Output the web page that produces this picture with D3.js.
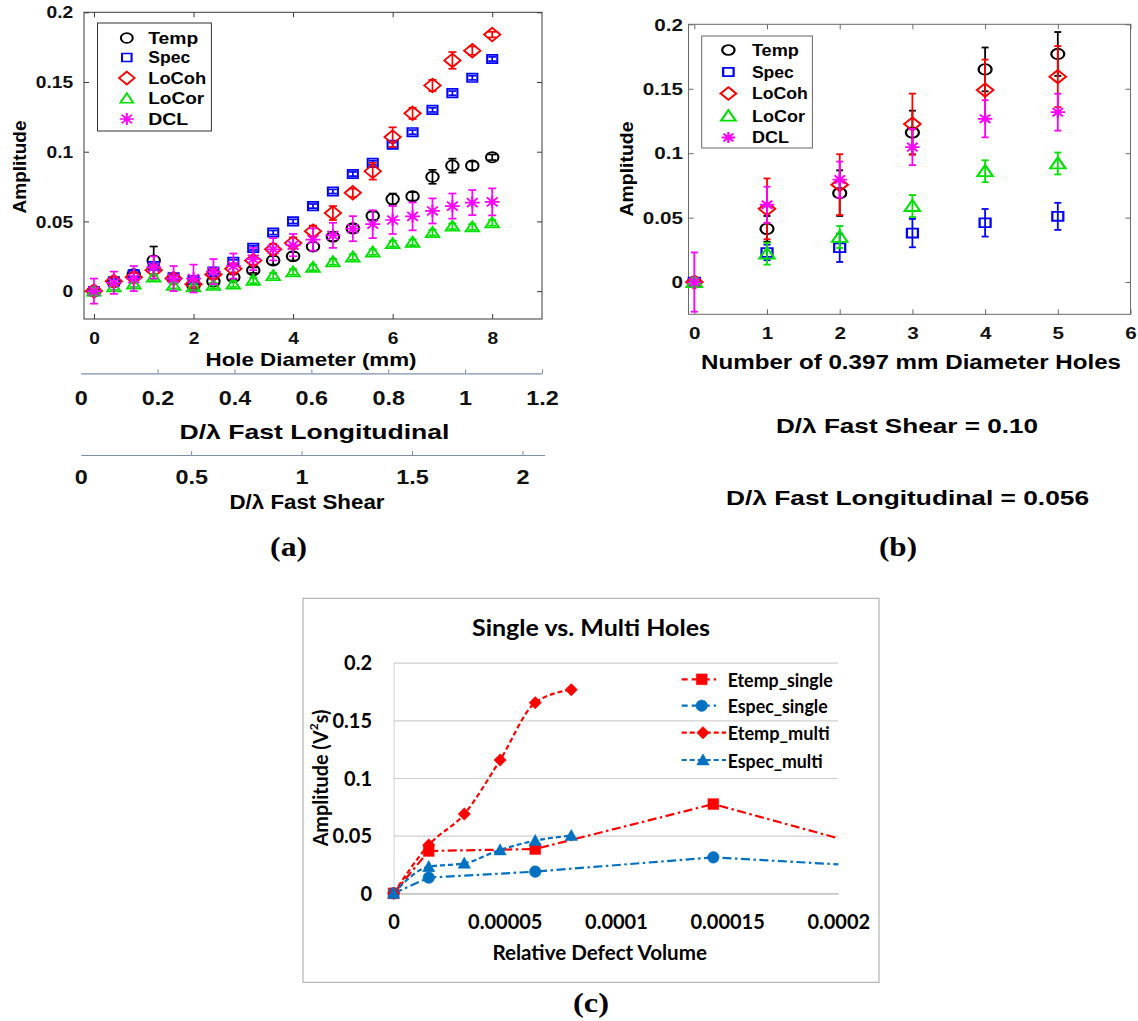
<!DOCTYPE html>
<html><head><meta charset="utf-8">
<script src="https://cdn.jsdelivr.net/npm/d3@7"></script>
<style>body{margin:0;background:#fff}svg{display:block}</style>
</head><body>
<svg id="fig" width="1138" height="1021"></svg>
<script>
// ---------------- DATA ----------------
const seriesNames = ["Temp", "Spec", "LoCoh", "LoCor", "DCL"];

// (a) single holes
const holeDiameter = [0, 0.4, 0.8, 1.2, 1.6, 2.0, 2.4, 2.8, 3.2, 3.6, 4.0, 4.4, 4.8, 5.2, 5.6, 6.0, 6.4, 6.8, 7.2, 7.6, 8.0];
const aTemp     = [0, 0.0065, 0.012, 0.022, 0.009, 0.004, 0.007, 0.010, 0.015, 0.022, 0.025, 0.032, 0.039, 0.045, 0.054, 0.066, 0.068, 0.082, 0.090, 0.090, 0.096];
const aTempErr  = [0.002, 0.003, 0.003, 0.010, 0.002, 0.002, 0.002, 0.002, 0.002, 0.003, 0.003, 0.003, 0.003, 0.003, 0.003, 0.004, 0.003, 0.005, 0.005, 0.003, 0.002];
const aSpec     = [0, 0.007, 0.012, 0.018, 0.010, 0.008, 0.014, 0.021, 0.031, 0.042, 0.050, 0.061, 0.0715, 0.084, 0.092, 0.105, 0.114, 0.130, 0.142, 0.153, 0.1665];
const aSpecErr  = [0.001, 0.0015, 0.0015, 0.0015, 0.0015, 0.0015, 0.0015, 0.0015, 0.0015, 0.0015, 0.0015, 0.0015, 0.0015, 0.0015, 0.0015, 0.0015, 0.0015, 0.0015, 0.0015, 0.0015, 0.0015];
const aLoCoh    = [0, 0.007, 0.010, 0.015, 0.009, 0.005, 0.012, 0.016, 0.022, 0.030, 0.0345, 0.043, 0.056, 0.0705, 0.086, 0.1105, 0.1275, 0.1475, 0.1655, 0.1725, 0.184];
const aLoCohErr = [0.002, 0.003, 0.003, 0.003, 0.002, 0.002, 0.003, 0.003, 0.003, 0.004, 0.004, 0.004, 0.005, 0.003, 0.006, 0.007, 0.004, 0.004, 0.006, 0.003, 0.002];
const aLoCor    = [0, 0.003, 0.005, 0.010, 0.004, 0.003, 0.004, 0.005, 0.0077, 0.011, 0.0137, 0.017, 0.021, 0.0244, 0.028, 0.034, 0.035, 0.042, 0.0465, 0.046, 0.049];
const aLoCorErr = [0.002, 0.002, 0.002, 0.002, 0.002, 0.002, 0.002, 0.002, 0.002, 0.002, 0.002, 0.002, 0.002, 0.002, 0.002, 0.002, 0.002, 0.002, 0.002, 0.002, 0.002];
const aDCL      = [0, 0.006, 0.009, 0.017, 0.009, 0.009, 0.014, 0.018, 0.023, 0.030, 0.033, 0.037, 0.040, 0.0448, 0.048, 0.051, 0.0536, 0.0575, 0.061, 0.0635, 0.064];
const aDCLErr   = [0.009, 0.008, 0.009, 0.008, 0.009, 0.010, 0.009, 0.009, 0.008, 0.008, 0.008, 0.008, 0.009, 0.009, 0.010, 0.010, 0.010, 0.009, 0.009, 0.009, 0.0097];
const aXTicks = [0, 2, 4, 6, 8];
const aYTicks = [0, 0.05, 0.1, 0.15, 0.2];
const longTicks = [0, 0.2, 0.4, 0.6, 0.8, 1, 1.2];
const shearTicks = [0, 0.5, 1, 1.5, 2];

// (b) multiple 0.397 mm holes
const holeCount = [0, 1, 2, 3, 4, 5];
const bTemp     = [0, 0.0413, 0.069, 0.116, 0.165, 0.177];
const bTempErr  = [0.003, 0.010, 0.0177, 0.017, 0.017, 0.017];
const bSpec     = [0, 0.023, 0.0266, 0.038, 0.046, 0.051];
const bSpecErr  = [0.002, 0.006, 0.011, 0.011, 0.0107, 0.0105];
const bLoCoh    = [0, 0.0568, 0.0756, 0.1226, 0.149, 0.1594];
const bLoCohErr = [0.004, 0.0236, 0.0236, 0.0236, 0.0236, 0.0237];
const bLoCor    = [0, 0.022, 0.035, 0.059, 0.086, 0.092];
const bLoCorErr = [0.003, 0.0085, 0.0085, 0.0085, 0.0085, 0.0085];
const bDCL      = [0, 0.060, 0.0795, 0.1047, 0.1267, 0.1318];
const bDCLErr   = [0.023, 0.014, 0.014, 0.014, 0.0144, 0.0143];
const bXTicks = [0, 1, 2, 3, 4, 5, 6];
const bYTicks = [0, 0.05, 0.1, 0.15, 0.2];

// (c) single vs multi
const cSeriesNames = ["Etemp_single", "Espec_single", "Etemp_multi", "Espec_multi"];
const relVolSingle = [0, 0.0000158, 0.0000637, 0.0001438, 0.000256];
const etempSingle  = [0, 0.0367, 0.0384, 0.0774, 0.0181];
const especSingle  = [0, 0.0136, 0.0188, 0.0312, 0.019];
const relVolMulti  = [0, 0.0000158, 0.0000318, 0.0000479, 0.0000637, 0.0000799];
const etempMulti   = [0, 0.0419, 0.0688, 0.1156, 0.1653, 0.1766];
const especMulti   = [0, 0.0231, 0.026, 0.0376, 0.0457, 0.050];
const cXTicks = [0, 0.00005, 0.0001, 0.00015, 0.0002];
const cYTicks = [0, 0.05, 0.1, 0.15, 0.2];

// ---------------- STYLE ----------------
const FA = "'Liberation Sans', Arial, sans-serif";
const FC = "Lato, 'Open Sans', sans-serif";
const FT = "'Liberation Serif', 'Times New Roman', serif";
const mColors = {Temp: "#000000", Spec: "#0000ff", LoCoh: "#ff0000", LoCor: "#00e000", DCL: "#ff00ff"};
const mShapes = {Temp: "circle", Spec: "square", LoCoh: "diamond", LoCor: "triangle", DCL: "asterisk"};
const fmt = d => String(+d.toFixed(6));

const svg = d3.select("#fig");

function txt(g, x, y, s, o = {}) {
  const t = g.append("text").attr("x", x).attr("y", y).text(s)
    .attr("font-family", o.family || FA).attr("font-size", o.size || 16)
    .attr("font-weight", o.weight || "bold").attr("text-anchor", o.anchor || "middle")
    .attr("dominant-baseline", "central").attr("fill", o.fill || "#000");
  if (o.width) t.attr("textLength", o.width).attr("lengthAdjust", "spacingAndGlyphs");
  if (o.rotate) t.attr("transform", `rotate(${o.rotate},${x},${y})`);
  return t;
}

function markerPath(shape, r) {
  const p = d3.path();
  if (shape === "circle") { p.moveTo(r, 0); p.arc(0, 0, r, 0, 2 * Math.PI); }
  else if (shape === "square") { p.rect(-r, -r, 2 * r, 2 * r); }
  else if (shape === "diamond") { p.moveTo(0, -r); p.lineTo(r, 0); p.lineTo(0, r); p.lineTo(-r, 0); p.closePath(); }
  else if (shape === "triangle") { p.moveTo(0, -r); p.lineTo(r, 0.8 * r); p.lineTo(-r, 0.8 * r); p.closePath(); }
  else if (shape === "asterisk") {
    const k = 0.72 * r;
    p.moveTo(-r, 0); p.lineTo(r, 0); p.moveTo(0, -r); p.lineTo(0, r);
    p.moveTo(-k, -k); p.lineTo(k, k); p.moveTo(-k, k); p.lineTo(k, -k);
  }
  return p.toString();
}

// ---------- MATLAB-style panel ----------
function matlabPanel(cfg) {
  const g = svg.append("g");
  const x = d3.scaleLinear(cfg.xDomain, [cfg.left, cfg.right]);
  const y = d3.scaleLinear(cfg.yDomain, [cfg.bottom, cfg.top]);
  const sx = cfg.stretch;
  const axColor = cfg.axisColor;
  const tickLen = 5;

  const gl = g.append("g").attr("transform", `translate(${cfg.left},0)`)
    .call(d3.axisLeft(y).tickValues(cfg.yTicks).tickFormat(fmt).tickSizeInner(-tickLen).tickSizeOuter(0).tickPadding(cfg.yPad));
  const gb = g.append("g").attr("transform", `translate(0,${cfg.bottom})`)
    .call(d3.axisBottom(x).tickValues(cfg.xTicks).tickFormat(fmt).tickSizeInner(-tickLen).tickSizeOuter(0));
  const gt = g.append("g").attr("transform", `translate(0,${cfg.top})`)
    .call(d3.axisTop(x).tickValues(cfg.xTicks).tickFormat("").tickSizeInner(-tickLen).tickSizeOuter(0));
  const gr = g.append("g").attr("transform", `translate(${cfg.right},0)`)
    .call(d3.axisRight(y).tickValues(cfg.yTicks).tickFormat("").tickSizeInner(-tickLen).tickSizeOuter(0));
  [gl, gb, gt, gr].forEach(a => {
    a.select(".domain").remove();
    a.selectAll("line").attr("stroke", axColor).attr("stroke-width", 1);
  });
  gl.selectAll("text").attr("font-family", FA).attr("font-weight", "bold").attr("font-size", cfg.tickSize)
    .attr("fill", "#111").attr("dy", "0.35em").attr("transform", `scale(${sx},1)`);
  gb.selectAll("text").attr("font-family", FA).attr("font-weight", "bold").attr("font-size", cfg.tickSize)
    .attr("fill", "#111").attr("y", cfg.xLabOff).attr("dy", "0.35em").attr("transform", `scale(${sx},1)`);

  g.append("rect").attr("x", cfg.left).attr("y", cfg.top)
    .attr("width", cfg.right - cfg.left).attr("height", cfg.bottom - cfg.top)
    .attr("fill", "none").attr("stroke", axColor).attr("stroke-width", 1);

  const plot = g.append("g");
  cfg.series.forEach(s => {
    const col = mColors[s.name];
    const sg = plot.append("g");
    cfg.xs.forEach((xv, i) => {
      const cx = x(xv), y0 = y(s.v[i] - s.e[i]), y1 = y(s.v[i] + s.e[i]);
      sg.append("line").attr("x1", cx).attr("x2", cx).attr("y1", y0).attr("y2", y1)
        .attr("stroke", col).attr("stroke-width", cfg.lw);
      [y0, y1].forEach(yy => sg.append("line").attr("x1", cx - cfg.cap).attr("x2", cx + cfg.cap)
        .attr("y1", yy).attr("y2", yy).attr("stroke", col).attr("stroke-width", cfg.lw));
    });
    sg.selectAll("path.m").data(cfg.xs.map((xv, i) => [xv, s.v[i]])).join("path")
      .attr("class", "m")
      .attr("d", markerPath(mShapes[s.name], cfg.msize[s.name]))
      .attr("transform", d => `translate(${x(d[0])},${y(d[1])}) scale(${sx},1)`)
      .attr("fill", "none").attr("stroke", col).attr("stroke-width", cfg.lw);
  });

  const L = cfg.legend;
  g.append("rect").attr("x", L.x0).attr("y", L.y0).attr("width", L.x1 - L.x0).attr("height", L.y1 - L.y0)
    .attr("fill", "#fff").attr("stroke", cfg.legendStroke).attr("stroke-width", 1);
  seriesNames.forEach((n, i) => {
    const yy = L.rows[i];
    g.append("path").attr("d", markerPath(mShapes[n], cfg.msize[n] * 0.95))
      .attr("transform", `translate(${L.mx},${yy}) scale(${sx},1)`)
      .attr("fill", "none").attr("stroke", mColors[n]).attr("stroke-width", cfg.lw);
    txt(g, L.tx, yy, n, {anchor: "start", size: cfg.legSize, width: L.widths[i]});
  });
  return {g, x, y};
}

// ---------------- PANEL (a) ----------------
matlabPanel({
  left: 84, right: 542, top: 12.3, bottom: 319,
  xDomain: [-0.2, 9], yDomain: [-0.02, 0.2],
  xTicks: aXTicks, yTicks: aYTicks, stretch: 1.2, axisColor: "#3a3a3a",
  tickSize: 16, yPad: 9, xLabOff: 19,
  xs: holeDiameter, lw: 1.7, cap: 4,
  msize: {Temp: 5.2, Spec: 4.2, LoCoh: 6.8, LoCor: 5.6, DCL: 6.2},
  series: [
    {name: "Temp", v: aTemp, e: aTempErr},
    {name: "Spec", v: aSpec, e: aSpecErr},
    {name: "LoCoh", v: aLoCoh, e: aLoCohErr},
    {name: "LoCor", v: aLoCor, e: aLoCorErr},
    {name: "DCL", v: aDCL, e: aDCLErr}
  ],
  legend: {x0: 97.5, x1: 211.4, y0: 23, y1: 131, mx: 126.8, tx: 148.2,
           rows: [38, 57.5, 78, 98.5, 119], widths: [50, 42, 58, 56, 40]},
  legendStroke: "#333", legSize: 16
});
txt(svg, 19.6, 167, "Amplitude", {size: 19, rotate: -90, width: 93});
txt(svg, 311, 359, "Hole Diameter (mm)", {size: 19, width: 211});

// secondary axes below (a)
const axisBlue = "#7d90a8";
const longX = d3.scaleLinear([0, 1.2], [80.7, 542]);
const gLong = svg.append("g").attr("transform", "translate(0,373.3)")
  .call(d3.axisBottom(longX).tickValues(longTicks).tickFormat(fmt).tickSizeInner(-4).tickSizeOuter(0));
gLong.select(".domain").attr("stroke", axisBlue).attr("stroke-width", 1.2);
gLong.selectAll("line").attr("stroke", axisBlue);
gLong.selectAll("text").attr("font-family", FA).attr("font-weight", "bold").attr("font-size", 19.5)
  .attr("fill", "#111").attr("y", 25).attr("dy", "0.35em").attr("transform", "scale(1.2,1)");
gLong.selectAll(".tick").filter(d => d === 0).select("line").remove();
txt(svg, 314.5, 431.7, "D/\u03bb Fast Longitudinal", {size: 20.5, width: 270});

const shearX = d3.scaleLinear([0, 2.1], [80.7, 544.6]);
const gShear = svg.append("g").attr("transform", "translate(0,455)")
  .call(d3.axisBottom(shearX).tickValues(shearTicks).tickFormat(fmt).tickSizeInner(-4).tickSizeOuter(0));
gShear.select(".domain").attr("stroke", axisBlue).attr("stroke-width", 1.2);
gShear.selectAll("line").attr("stroke", axisBlue);
gShear.selectAll("text").attr("font-family", FA).attr("font-weight", "bold").attr("font-size", 19.5)
  .attr("fill", "#111").attr("y", 21.7).attr("dy", "0.35em").attr("transform", "scale(1.2,1)");
gShear.selectAll(".tick").filter(d => d === 0).select("line").remove();
txt(svg, 307, 502.3, "D/\u03bb Fast Shear", {size: 19.5, width: 155});
txt(svg, 288.6, 546.7, "(a)", {family: FT, size: 27, width: 37});

// ---------------- PANEL (b) ----------------
matlabPanel({
  left: 688.5, right: 1130.5, top: 24.3, bottom: 314.3,
  xDomain: [-0.08, 6], yDomain: [-0.025, 0.2],
  xTicks: bXTicks, yTicks: bYTicks, stretch: 1.25, axisColor: "#6a6a6a",
  tickSize: 16.5, yPad: 4.5, xLabOff: 18.5,
  xs: holeCount, lw: 1.8, cap: 3.5,
  msize: {Temp: 5.2, Spec: 4.4, LoCoh: 6.6, LoCor: 6.2, DCL: 5.8},
  series: [
    {name: "Temp", v: bTemp, e: bTempErr},
    {name: "Spec", v: bSpec, e: bSpecErr},
    {name: "LoCoh", v: bLoCoh, e: bLoCohErr},
    {name: "LoCor", v: bLoCor, e: bLoCorErr},
    {name: "DCL", v: bDCL, e: bDCLErr}
  ],
  legend: {x0: 701.7, x1: 812.4, y0: 36, y1: 148, mx: 728.4, tx: 751.9,
           rows: [50, 72, 93.5, 116, 137.5], widths: [47, 42, 56, 53, 37]},
  legendStroke: "#666", legSize: 16
});
txt(svg, 626.3, 169, "Amplitude", {size: 19, rotate: -90, width: 95});
txt(svg, 911, 361.7, "Number of 0.397 mm  Diameter Holes", {size: 19.5, width: 420});
txt(svg, 907, 425.5, "D/\u03bb Fast Shear = 0.10", {size: 21, width: 262});
txt(svg, 907.5, 497.5, "D/\u03bb Fast Longitudinal = 0.056", {size: 21, width: 363});
txt(svg, 898, 546.5, "(b)", {family: FT, size: 27, width: 38});

// ---------------- PANEL (c) ----------------
const gc = svg.append("g");
gc.append("rect").attr("x", 303).attr("y", 598.3).attr("width", 576).attr("height", 384)
  .attr("fill", "#fff").attr("stroke", "#a6a6a6").attr("stroke-width", 1);
const cx = d3.scaleLinear([0, 0.0002], [393.6, 838.3]);
const cy = d3.scaleLinear([0, 0.2], [893.3, 662.7]);
const grid = gc.append("g").attr("transform", `translate(393.6,0)`)
  .call(d3.axisLeft(cy).tickValues(cYTicks).tickFormat(fmt).tickSizeInner(-(838.3 - 393.6)).tickSizeOuter(0).tickPadding(21.6));
grid.select(".domain").attr("stroke", "#d0d0d0");
grid.selectAll("line").attr("stroke", "#d0d0d0").attr("stroke-width", 1.2);
grid.selectAll("text").attr("font-family", FC).attr("font-weight", "bold").attr("font-size", 20)
  .attr("fill", "#000").attr("dy", "0.35em");
const gxc = gc.append("g").attr("transform", `translate(0,893.3)`)
  .call(d3.axisBottom(cx).tickValues(cXTicks).tickFormat(fmt).tickSize(0));
gxc.select(".domain").attr("stroke", "#bfbfbf").attr("stroke-width", 1.2);
gxc.selectAll("text").attr("font-family", FC).attr("font-weight", "bold").attr("font-size", 20)
  .attr("fill", "#000").attr("y", 28.4).attr("dy", "0.35em");

gc.append("clipPath").attr("id", "cclip").append("rect")
  .attr("x", 380).attr("y", 650).attr("width", 838.3 - 380).attr("height", 260);
const cPlot = gc.append("g").attr("clip-path", "url(#cclip)");
const RED = "#ff0000", BLUE = "#0070c0";
const DASHDOT = "9,3.5,2.5,3.5", DASH = "5,3";
const cSeries = [
  {name: "Etemp_single", xs: relVolSingle, v: etempSingle, color: RED, dash: DASHDOT, shape: "square", r: 5.4, curve: d3.curveLinear},
  {name: "Espec_single", xs: relVolSingle, v: especSingle, color: BLUE, dash: DASHDOT, shape: "circle", r: 5.8, curve: d3.curveLinear},
  {name: "Etemp_multi", xs: relVolMulti, v: etempMulti, color: RED, dash: DASH, shape: "diamond", r: 6.2, curve: d3.curveMonotoneX},
  {name: "Espec_multi", xs: relVolMulti, v: especMulti, color: BLUE, dash: DASH, shape: "triangle", r: 6.2, curve: d3.curveMonotoneX}
];
cSeries.forEach(s => {
  const pts = s.xs.map((xv, i) => [xv, s.v[i]]);
  const lineGen = d3.line().x(d => cx(d[0])).y(d => cy(d[1])).curve(s.curve);
  cPlot.append("path").attr("d", lineGen(pts)).attr("fill", "none").attr("stroke", s.color)
    .attr("stroke-width", 2.2).attr("stroke-dasharray", s.dash);
});
cSeries.forEach(s => {
  const pts = s.xs.map((xv, i) => [xv, s.v[i]]);
  cPlot.selectAll(null).data(pts).join("path")
    .attr("d", markerPath(s.shape, s.r))
    .attr("transform", d => `translate(${cx(d[0])},${cy(d[1])})`)
    .attr("fill", s.color).attr("stroke", s.color).attr("stroke-width", 0.5);
});
const cLegRows = [679.3, 705.7, 732.7, 760];
const cLegW = [105, 100, 102, 95];
cSeries.forEach((s, i) => {
  const yy = cLegRows[i];
  gc.append("line").attr("x1", 681.7).attr("x2", s.dash === DASH ? 726 : 716).attr("y1", yy).attr("y2", yy)
    .attr("stroke", s.color).attr("stroke-width", 2.2)
    .attr("stroke-dasharray", s.dash === DASH ? DASH : "6,4,18,4,6");
  gc.append("path").attr("d", markerPath(s.shape, s.r)).attr("transform", `translate(${s.dash === DASH ? 703 : 701.7},${yy})`)
    .attr("fill", s.color).attr("stroke", s.color).attr("stroke-width", 0.5);
  txt(gc, 727.7, yy, s.name, {family: FC, size: 19.5, anchor: "start", width: cLegW[i]});
});
txt(gc, 591, 626.7, "Single vs. Multi Holes", {family: FC, size: 23.5, width: 238});
txt(gc, 599.7, 951.7, "Relative Defect Volume", {family: FC, size: 20, width: 214.6});
const yt = gc.append("text").attr("x", 320.3).attr("y", 778)
  .attr("transform", "rotate(-90,320.3,778)").attr("text-anchor", "middle").attr("dominant-baseline", "central")
  .attr("font-family", FC).attr("font-weight", "bold").attr("font-size", 20)
  .attr("textLength", 136.7).attr("lengthAdjust", "spacingAndGlyphs");
yt.append("tspan").text("Amplitude (V");
yt.append("tspan").attr("font-size", 12).attr("dy", -7).text("2");
yt.append("tspan").attr("dy", 7).text("s)");
txt(svg, 591, 1003, "(c)", {family: FT, size: 27, width: 36});
</script>
</body></html>
